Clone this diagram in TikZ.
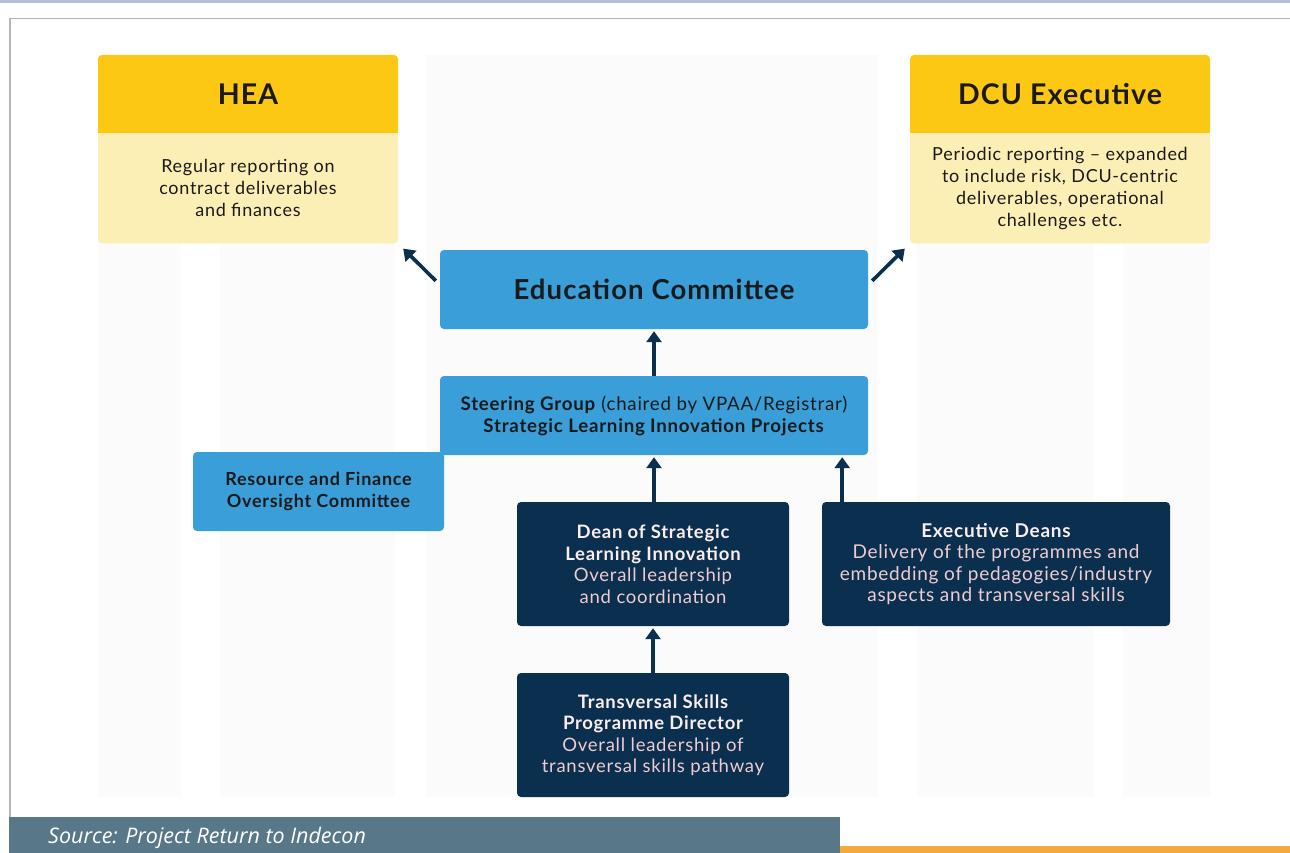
\documentclass[tikz,border=0pt]{standalone}
\usepackage{fontspec}
\setmainfont{Lato}[LetterSpace=4]
\newfontfamily\srcfont{Open Sans}
\usetikzlibrary{arrows.meta,calc,positioning}
\definecolor{hdrY}{HTML}{FCC814}
\definecolor{bodyY}{HTML}{FCEFB5}
\definecolor{boxB}{HTML}{3A9ED9}
\definecolor{navy}{HTML}{0B2F4E}
\definecolor{txtD}{HTML}{1A1A1A}
\definecolor{pinkT}{HTML}{EFCCCF}
\definecolor{whiteT}{HTML}{FBEDED}
\definecolor{srcbar}{HTML}{587788}
\definecolor{orangeL}{HTML}{F5A93A}
\definecolor{topL}{HTML}{B4C0D4}
\definecolor{frameG}{HTML}{B5B5B5}
\definecolor{stripe}{HTML}{FBFBFB}
\tikzset{
  base/.style={inner sep=0pt, align=center, rounded corners=4pt, text=txtD},
  hdrbox/.style={base, fill=hdrY, minimum width=300pt, minimum height=78pt, font=\fontsize{28.5}{32}\selectfont\bfseries},
  bodybox/.style={base, fill=bodyY, minimum width=300pt, minimum height=110pt, font=\fontsize{18}{22}\selectfont},
  bluebox/.style={base, fill=boxB, minimum height=79pt},
  navybox/.style={base, fill=navy, minimum height=124pt, text=pinkT, font=\fontsize{18.5}{21.5}\selectfont},
  arr/.style={draw=navy, line width=3.6pt, -{Triangle[width=15pt,length=11pt]}},
}
\begin{document}
\begin{tikzpicture}[x=1pt,y=-1pt]
\useasboundingbox (0,0) rectangle (1290,853);
% frame
\fill[white] (0,0) rectangle (1290,853);
\fill[topL] (0,0) rectangle (1290,3);
\draw[frameG, line width=1.6pt] (10,817) -- (10,18.5) -- (1290,18.5);
% faint background stripes
\foreach \a/\b in {98/181, 220/395, 426/790, 790/878, 917/1094, 1123/1210}
  \fill[stripe] (\a,55) rectangle (\b,797);
% HEA
\node[hdrbox] (hea) at (248,94) {HEA};
\fill[hdrY] ($(hea.south west)+(0,-6)$) rectangle (hea.south east);
\node[bodybox, below=0pt of hea] (heab) {Regular reporting on\\contract deliverables\\and finances};
\fill[bodyY] (heab.north west) rectangle ($(heab.north east)+(0,6)$);
% DCU Executive
\node[hdrbox] (dcu) at (1060,94) {DCU Executive};
\fill[hdrY] ($(dcu.south west)+(0,-6)$) rectangle (dcu.south east);
\node[bodybox, below=0pt of dcu] (dcub) {Periodic reporting -- expanded\\to include risk, DCU-centric\\deliverables, operational\\challenges etc.};
\fill[bodyY] (dcub.north west) rectangle ($(dcub.north east)+(0,6)$);
% Education Committee
\node[bluebox, minimum width=428pt, font=\fontsize{27.5}{30}\selectfont\bfseries] (edu) at (654,289.5) {Education Committee};
% Steering Group
\node[bluebox, minimum width=428pt, font=\fontsize{18.7}{22}\selectfont] (steer) at (654,415.5)
  {\textbf{Steering Group} (chaired by VPAA/Registrar)\\\textbf{Strategic Learning Innovation Projects}};
% Resource and Finance
\node[bluebox, minimum width=251pt, font=\fontsize{18}{22}\selectfont\bfseries] (res) at (318.5,491.5)
  {Resource and Finance\\Oversight Committee};
% Dean
\node[navybox, minimum width=272pt] (dean) at (653,564)
  {{\color{whiteT}\bfseries Dean of Strategic}\\{\color{whiteT}\bfseries Learning Innovation}\\Overall leadership\\and coordination};
% Executive Deans
\node[navybox, minimum width=348pt, font=\fontsize{19}{21.5}\selectfont] (exd) at (996,564)
  {{\color{whiteT}\bfseries Executive Deans}\\Delivery of the programmes and\\embedding of pedagogies/industry\\aspects and transversal skills};
% Transversal
\node[navybox, minimum width=272pt] (tsp) at (653,735)
  {{\color{whiteT}\bfseries Transversal Skills}\\{\color{whiteT}\bfseries Programme Director}\\Overall leadership of\\transversal skills pathway};
% arrows
\draw[arr] ($(edu.north west)+(-4,31)$) -- ($(heab.south east)+(5,5)$);
\draw[arr] ($(edu.north east)+(4,31)$) -- ($(dcub.south west)+(-5,5)$);
\draw[arr] (steer.north) -- ($(edu.south)+(0,2)$);
\draw[arr] (dean.north -| steer.south) -- ($(steer.south)+(0,2)$);
\coordinate (exin) at ($(steer.south east)+(-26,2)$);
\draw[arr] (exd.north -| exin) -- (exin);
\draw[arr] (tsp.north) -- ($(dean.south)+(0,2)$);
% source bar
\node[fill=srcbar, minimum width=831pt, minimum height=36pt, inner sep=0pt] (src) at (424.5,835) {};
\node[anchor=west, text=white, font=\srcfont\itshape\fontsize{21.5}{24}\selectfont, inner sep=0pt] (srct) at (48,838) {Source: Project Return to Indecon};
\fill[orangeL] (840,846) rectangle (1290,853);
\end{tikzpicture}
\end{document}
